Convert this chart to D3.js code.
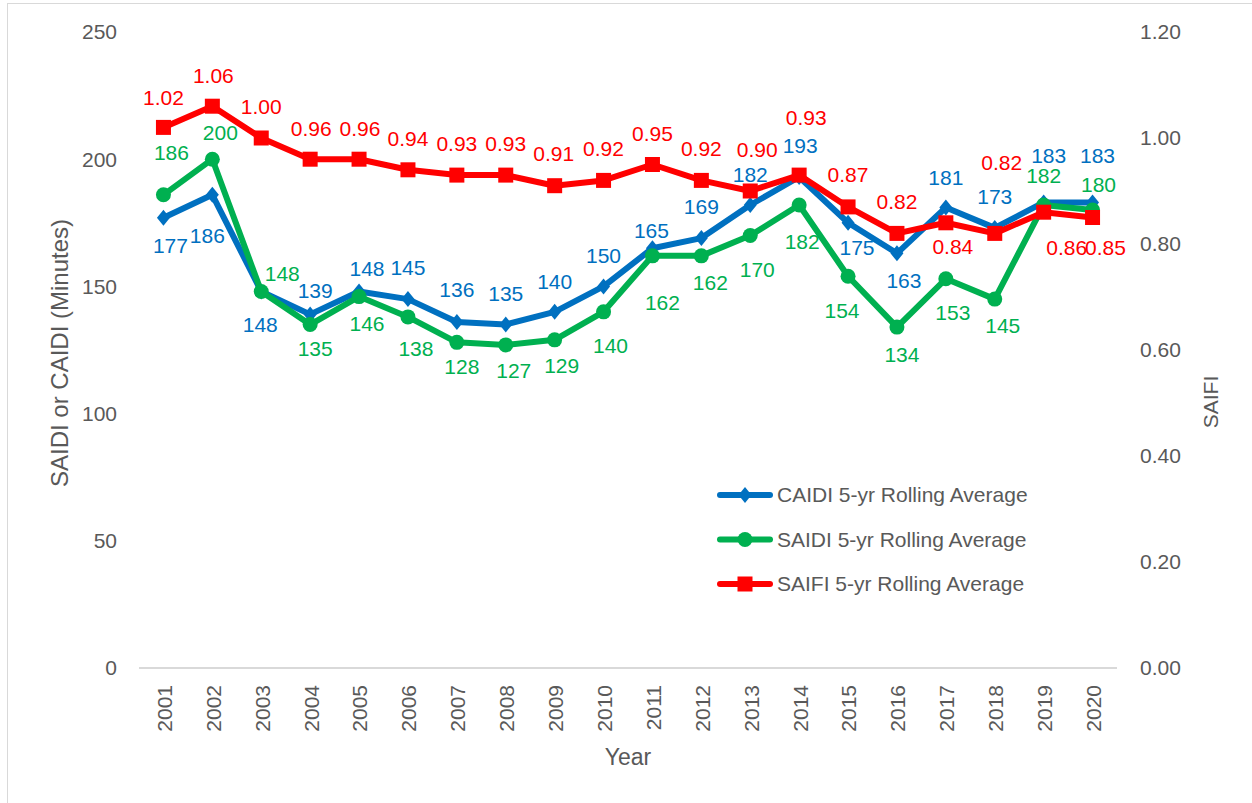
<!DOCTYPE html>
<html><head><meta charset="utf-8">
<script src="https://cdn.jsdelivr.net/npm/d3@7"></script>
<style>body{margin:0;background:#fff}svg{display:block}</style>
</head><body><svg id="c" width="1252" height="803"></svg>
<script>
const years = ["2001","2002","2003","2004","2005","2006","2007","2008","2009","2010","2011","2012","2013","2014","2015","2016","2017","2018","2019","2020"];
const caidi = [177,186,148,139,148,145,136,135,140,150,165,169,182,193,175,163,181,173,183,183];
const saidi = [186,200,148,135,146,138,128,127,129,140,162,162,170,182,154,134,153,145,182,180];
const saifi = [1.02,1.06,1.00,0.96,0.96,0.94,0.93,0.93,0.91,0.92,0.95,0.92,0.90,0.93,0.87,0.82,0.84,0.82,0.86,0.85];
const leftTicks = [0,50,100,150,200,250];
const rightTicks = [0,0.2,0.4,0.6,0.8,1.0,1.2];
const seriesNames = ["CAIDI 5-yr Rolling Average","SAIDI 5-yr Rolling Average","SAIFI 5-yr Rolling Average"];

// label placement offsets (dx, dy) relative to each point
const caidiLab = [[7,28],[-5,41],[-1,33],[5,-24],[8,-23],[0,-31],[0,-32],[0,-31],[0,-30],[0,-31],[-1,-18],[0,-31],[0,-30],[1,-31],[9,25],[7,27],[0,-30],[0,-31],[5,-47],[5,-47]];
const saidiLab = [[8,-42],[8,-27],[21,-18],[5,24],[8,27],[8,32],[5,24],[8,26],[7,26],[7,34],[10,47],[9,27],[7,34],[3,37],[-6,34],[5,28],[7,34],[8,27],[0,-29],[6,-25]];
const saifiLab = [[0,-30],[1,-31],[0,-31],[1,-31],[1,-31],[0,-31],[0,-31],[0,-31],[-1,-32],[0,-32],[0,-31],[0,-32],[7,-41],[7,-57],[0,-32],[0,-32],[7,24],[7,-71],[23,35],[13,30]];

const svg = d3.select("#c");
const pL = 139, pR = 1117, pT = 32, pB = 668;
const font = "'Liberation Sans', Arial, sans-serif";
const grey = "#595959";
const colors = ["#0070C0","#00B050","#FF0000"];

svg.append("rect").attr("x",7.5).attr("y",3.5).attr("width",1250).attr("height",800)
  .attr("fill","#fff").attr("stroke","#d9d9d9").attr("stroke-width",1);

const x = d3.scaleBand().domain(years).range([pL,pR]);
const cx = d => x(d) + x.bandwidth()/2;
const yL = d3.scaleLinear().domain([0,250]).range([pB,pT]);
const yR = d3.scaleLinear().domain([0,1.2]).range([pB,pT]);

svg.append("line").attr("x1",pL).attr("x2",pR).attr("y1",yL(0)).attr("y2",yL(0))
  .attr("stroke","#d9d9d9").attr("stroke-width",2);

svg.append("g").selectAll("text").data(leftTicks).join("text")
  .attr("x",117).attr("y",d=>yL(d)).attr("dy","0.35em").attr("text-anchor","end")
  .attr("font-family",font).attr("font-size",21).attr("fill",grey).text(d=>d);
svg.append("g").selectAll("text").data(rightTicks).join("text")
  .attr("x",1140).attr("y",d=>yR(d)).attr("dy","0.35em").attr("text-anchor","start")
  .attr("font-family",font).attr("font-size",21).attr("fill",grey).text(d=>d3.format(".2f")(d));
svg.append("g").selectAll("text").data(years).join("text")
  .attr("transform",d=>`translate(${cx(d)+1},${685}) rotate(-90)`)
  .attr("dy","0.35em").attr("text-anchor","end")
  .attr("font-family",font).attr("font-size",21).attr("fill",grey).text(d=>d);

svg.append("text").attr("transform","translate(60,353) rotate(-90)").attr("text-anchor","middle")
  .attr("dy","0.35em").attr("font-family",font)
  .attr("font-size",24).attr("fill",grey).text("SAIDI or CAIDI (Minutes)");
svg.append("text").attr("transform","translate(1211,402) rotate(-90)").attr("text-anchor","middle")
  .attr("dy","0.35em").attr("font-family",font)
  .attr("font-size",21).attr("fill",grey).text("SAIFI");
svg.append("text").attr("x",628).attr("y",757).attr("text-anchor","middle")
  .attr("dy","0.35em").attr("font-family",font)
  .attr("font-size",23).attr("fill",grey).text("Year");

const diamond = "M0,-8L6.5,0L0,8L-6.5,0Z";
function marker(g, i) {
  if (i===0) g.append("path").attr("d",diamond).attr("fill",colors[0]);
  else if (i===1) g.append("circle").attr("r",7.5).attr("fill",colors[1]);
  else g.append("rect").attr("x",-7.5).attr("y",-7.5).attr("width",15).attr("height",15).attr("fill",colors[2]);
}

const series = [
  {vals:caidi, y:yL, lab:caidiLab, fmt:d=>d},
  {vals:saidi, y:yL, lab:saidiLab, fmt:d=>d},
  {vals:saifi, y:yR, lab:saifiLab, fmt:d=>d3.format(".2f")(d)}
];

series.forEach((s,i)=>{
  const line = d3.line().x((d,j)=>cx(years[j])).y(d=>s.y(d));
  svg.append("path").datum(s.vals).attr("d",line).attr("fill","none")
    .attr("stroke",colors[i]).attr("stroke-width",6).attr("stroke-linejoin","round").attr("stroke-linecap","round");
  s.vals.forEach((v,j)=>{
    const g = svg.append("g").attr("transform",`translate(${cx(years[j])},${s.y(v)})`);
    marker(g,i);
  });
});
series.forEach((s,i)=>{
  svg.append("g").selectAll("text").data(s.vals).join("text")
    .attr("x",(d,j)=>cx(years[j])+s.lab[j][0]).attr("y",(d,j)=>s.y(d)+s.lab[j][1])
    .attr("dy","0.35em").attr("text-anchor","middle")
    .attr("font-family",font).attr("font-size",21).attr("fill",colors[i]).text(s.fmt);
});

const leg = svg.append("g");
seriesNames.forEach((n,i)=>{
  const yy = 495 + i*44.5;
  leg.append("line").attr("x1",720).attr("x2",770).attr("y1",yy).attr("y2",yy)
    .attr("stroke",colors[i]).attr("stroke-width",6).attr("stroke-linecap","round");
  marker(leg.append("g").attr("transform",`translate(745,${yy})`), i);
  leg.append("text").attr("x",777).attr("y",yy).attr("dy","0.35em")
    .attr("font-family",font).attr("font-size",21).attr("fill",grey).text(n);
});
</script></body></html>
